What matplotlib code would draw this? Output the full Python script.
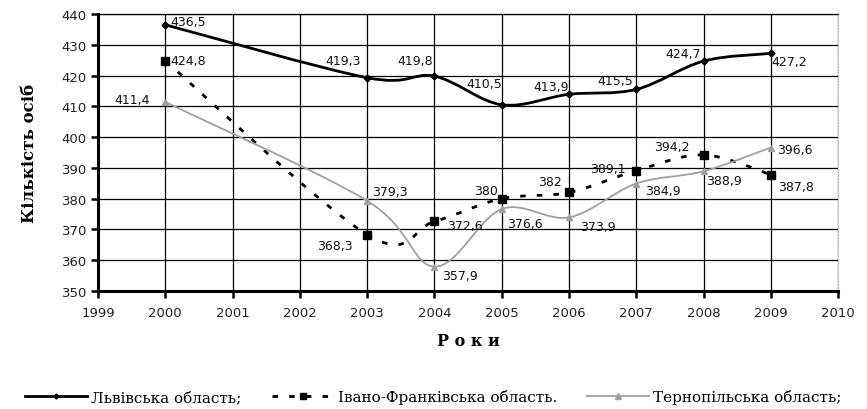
import numpy as np
import matplotlib.pyplot as plt
from matplotlib.path import Path
from matplotlib.patches import PathPatch
from matplotlib.lines import Line2D

# Дані / Data
years = [2000, 2003, 2004, 2005, 2006, 2007, 2008, 2009]
lviv = [436.5, 419.3, 419.8, 410.5, 413.9, 415.5, 424.7, 427.2]
ivano = [424.8, 368.3, 372.6, 380.0, 382.0, 389.1, 394.2, 387.8]
ternopil = [411.4, 379.3, 357.9, 376.6, 373.9, 384.9, 388.9, 396.6]

series_names = ['Львівська область;', 'Івано-Франківська область.', 'Тернопільська область;']
x_ticks = list(range(1999, 2011))
y_ticks = list(range(350, 441, 10))

# зміщення підписів (пікселі): dx, dy, ha
lviv_lbl = [(5, 3, 'left'), (-6, 17, 'right'), (-1, 16, 'right'), (0, 21, 'right'),
            (0, 8, 'right'), (-3, 9, 'right'), (-3, 8, 'right'), (1, -8, 'left')]
ivano_lbl = [(5, 0, 'left'), (-14, -11, 'right'), (13, -4, 'left'), (-4, 8, 'right'),
             (-7, 11, 'right'), (-11, 2, 'right'), (-14, 8, 'right'), (7, -12, 'left')]
tern_lbl = [(-15, 3, 'right'), (5, 9, 'left'), (8, -9, 'left'), (5, -14, 'left'),
            (11, -9, 'left'), (9, -7, 'left'), (3, -9, 'left'), (6, -2, 'left')]


def smooth_path(xs, ys):
    """Згладжена лінія (Catmull-Rom -> Безьє), як у Excel"""
    pts = np.column_stack([xs, ys]).astype(float)
    n = len(pts)
    verts = [pts[0]]
    codes = [Path.MOVETO]
    for i in range(n - 1):
        p0 = pts[i - 1] if i > 0 else pts[i]
        p1 = pts[i]
        p2 = pts[i + 1]
        p3 = pts[i + 2] if i + 2 < n else pts[i + 1]
        c1 = p1 + (p2 - p0) / 6.0
        c2 = p2 - (p3 - p1) / 6.0
        verts += [c1, c2, p2]
        codes += [Path.CURVE4] * 3
    return Path(verts, codes)


def fmt(v):
    s = f'{v:.1f}'.replace('.', ',')
    return s[:-2] if s.endswith(',0') else s


fig = plt.figure(figsize=(8.67, 4.10), dpi=100)
ax = fig.add_axes([0.113, 0.288, 0.8537, 0.6754])

styles = [
    dict(color='black', lw=2.0, ls='-', marker='D', ms=3.5, mfc='black'),
    dict(color='black', lw=2.0, ls=(0, (2, 4)), marker='s', ms=5.5, mfc='black'),
    dict(color='#a0a0a0', lw=1.3, ls='-', marker='^', ms=5, mfc='#a0a0a0'),
]
data = [lviv, ivano, ternopil]
labels = [lviv_lbl, ivano_lbl, tern_lbl]

for vals, st, lbl in zip(data, styles, labels):
    patch = PathPatch(smooth_path(years, vals), facecolor='none', edgecolor=st['color'],
                      lw=st['lw'], ls=st['ls'], zorder=3, capstyle='butt')
    ax.add_patch(patch)
    ax.plot(years, vals, ls='none', marker=st['marker'], ms=st['ms'],
            color=st['color'], mfc=st['mfc'], mec=st['color'], zorder=4)
    for x, v, (dx, dy, ha) in zip(years, vals, lbl):
        ax.annotate(fmt(v), (x, v), xytext=(dx, dy), textcoords='offset pixels',
                    ha=ha, va='center', fontsize=9, color='#111111',
                    family='DejaVu Sans', zorder=5)

ax.set_xlim(1999, 2010)
ax.set_ylim(350, 440)
ax.set_xticks(x_ticks)
ax.set_yticks(y_ticks)
ax.grid(True, color='black', lw=0.9)
ax.set_axisbelow(True)

for side in ['left', 'bottom']:
    ax.spines[side].set_linewidth(2.2)
ax.spines['top'].set_linewidth(0.9)
ax.spines['right'].set_color('#bbbbbb')
ax.spines['right'].set_linestyle(':')

ax.tick_params(axis='both', direction='out', length=5, width=1.8,
               labelsize=9.5, labelcolor='#222222')
ax.tick_params(axis='x', pad=6)
ax.tick_params(axis='y', pad=3)

ax.set_ylabel('Кількість осіб', family='DejaVu Serif', fontweight='bold',
              fontsize=12, labelpad=17)
ax.set_xlabel('Р о к и', family='DejaVu Serif', fontweight='bold',
              fontsize=11.5, labelpad=9)

handles = [Line2D([], [], color=st['color'], lw=st['lw'], ls=st['ls'],
                  marker=st['marker'], ms=st['ms'] - 1, mfc=st['mfc'], mec=st['color'])
           for st in styles]
fig.legend(handles, series_names, loc='center', bbox_to_anchor=(0.5, 0.03), ncol=3,
           frameon=False, handlelength=4.0, handletextpad=0.3, columnspacing=2.0,
           prop={'family': 'DejaVu Serif', 'size': 11})

fig.savefig('out.png', dpi=100)
